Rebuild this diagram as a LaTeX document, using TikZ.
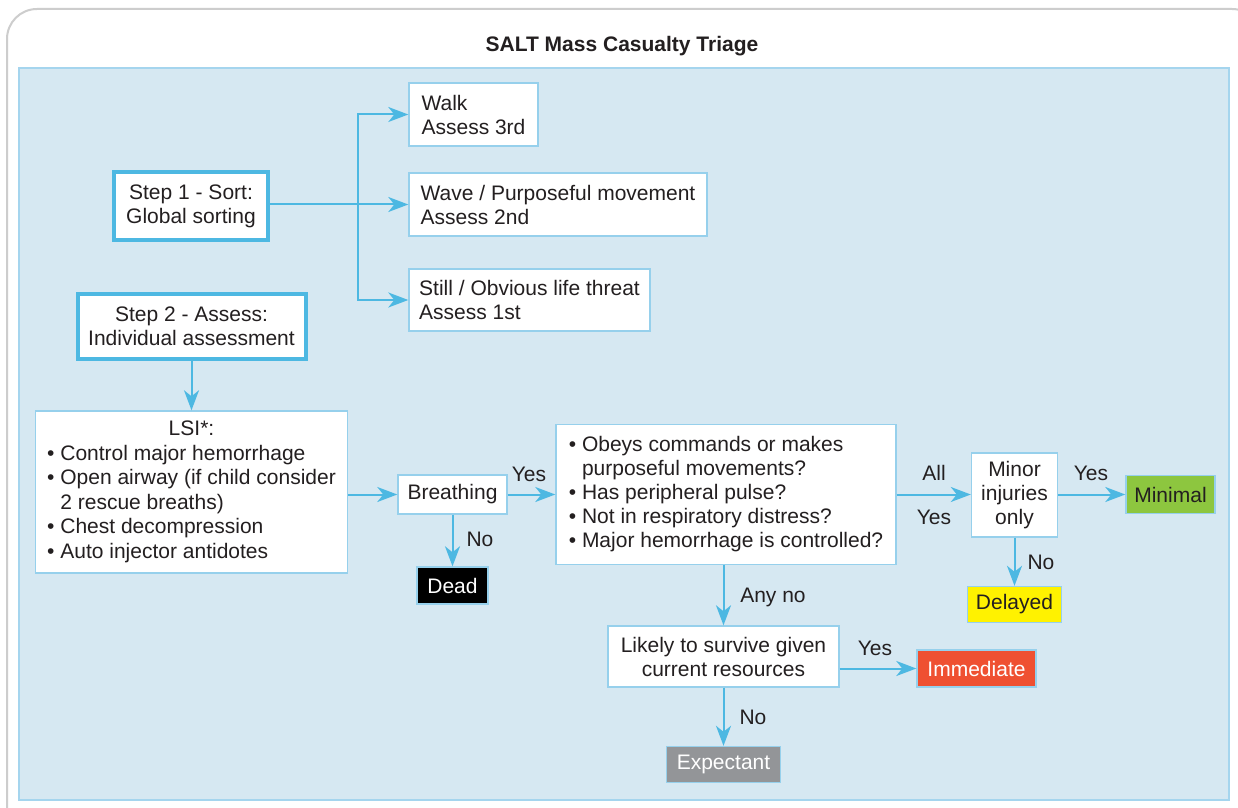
\documentclass[tikz,border=0pt]{standalone}
\usepackage{fontspec}
\setmainfont{Liberation Sans}
\usetikzlibrary{arrows.meta}

\definecolor{flowblue}{RGB}{77,184,226}
\definecolor{panelfill}{RGB}{214,232,242}
\definecolor{panelline}{RGB}{165,213,238}
\definecolor{boxline}{RGB}{150,208,236}
\definecolor{framegray}{RGB}{205,205,205}
\definecolor{ink}{RGB}{35,31,32}
\definecolor{minimalgreen}{RGB}{141,198,63}
\definecolor{delayedyellow}{RGB}{255,242,0}
\definecolor{immediatered}{RGB}{239,80,49}
\definecolor{expectantgray}{RGB}{147,149,152}

\begin{document}
\begin{tikzpicture}[x=0.5pt, y=-0.5pt, font=\fontsize{10.5}{12}\selectfont, text=ink,
  box/.style={draw=boxline, fill=white, line width=0.7pt, inner sep=0pt, align=center},
  stepbox/.style={box, draw=flowblue, line width=2pt},
  tagbox/.style={draw=boxline, line width=0.7pt, inner sep=0pt},
  flow/.style={draw=flowblue, line width=1pt, -{Stealth[length=10pt, width=7.5pt, inset=3pt]}},
  lbl/.style={inner sep=0pt}]
\useasboundingbox (0,0) rectangle (1238,808);
\clip (0,0) rectangle (1238,808);
\fill[white] (0,0) rectangle (1238,808);
\draw[framegray, line width=1pt, rounded corners=15pt] (7,9) rectangle (1262,840);
\draw[panelline, fill=panelfill, line width=1pt] (19,68) rectangle (1229,800);
\node[font=\fontsize{10.5}{12}\selectfont\bfseries] at (622,46) (title) {SALT Mass Casualty Triage};

% sorting
\node[stepbox, minimum width=77pt, minimum height=33.5pt] at (191,206) (step1) {Step 1 - Sort:\\Global sorting};
\node[box, align=left, minimum width=64.5pt, minimum height=31.5pt] at (473.5,114.5) (walk) {Walk\\Assess 3rd};
\node[box, align=left, minimum width=149pt, minimum height=31.5pt] at (558,204.5) (wave) {Wave / Purposeful movement\\Assess 2nd};
\node[box, align=left, minimum width=120.5pt, minimum height=31pt] at (529.5,300) (still) {Still / Obvious life threat\\Assess 1st};
\coordinate (fork) at (358,205);

% assessment
\node[stepbox, minimum width=114pt, minimum height=32.5pt] at (191.5,326.5) (step2) {Step 2 - Assess:\\Individual assessment};
\node[box, minimum width=156pt, minimum height=81pt, font=\fontsize{10.5}{12.3}\selectfont] at (191.5,492) (lsi) {\begin{tabular}{@{}l@{}}
  \multicolumn{1}{@{}c@{}}{LSI*:}\\
  \textbullet\ Control major hemorrhage\\
  \textbullet\ Open airway (if child consider\\
  \phantom{\textbullet\ }2 rescue breaths)\\
  \textbullet\ Chest decompression\\
  \textbullet\ Auto injector antidotes
  \end{tabular}};
\node[box, minimum width=54.5pt, minimum height=19.5pt] at (452.5,494.5) (breathing) {Breathing};
\node[tagbox, fill=black, text=white, minimum width=35.5pt, minimum height=18.5pt] at (452.5,585.5) (dead) {Dead};
\node[box, align=left, minimum width=170pt, minimum height=70pt] at (726,494.5) (checks) {\textbullet\ Obeys commands or makes\\
  \phantom{\textbullet\ }purposeful movements?\\
  \textbullet\ Has peripheral pulse?\\
  \textbullet\ Not in respiratory distress?\\
  \textbullet\ Major hemorrhage is controlled?};
\node[box, minimum width=43pt, minimum height=42pt] at (1014.5,495) (minor) {Minor\\injuries\\only};
\node[tagbox, fill=minimalgreen, minimum width=44.5pt, minimum height=19pt] at (1170.5,494.5) (minimal) {Minimal};
\node[tagbox, fill=delayedyellow, minimum width=47pt, minimum height=18pt] at (1014.5,604.5) (delayed) {Delayed};
\node[box, minimum width=115.5pt, minimum height=30.5pt] at (723.5,656.5) (survive) {Likely to survive given\\current resources};
\node[tagbox, fill=immediatered, text=white, minimum width=59.5pt, minimum height=18.5pt] at (976.5,668.5) (immediate) {Immediate};
\node[tagbox, fill=expectantgray, text=white, minimum width=57pt, minimum height=18pt] at (723.5,764.5) (expectant) {Expectant};

% answers
\node[lbl] at (529,474) (yesbreath) {Yes};
\node[lbl] at (480,539) (nobreath) {No};
\node[lbl] at (934,473) (allchecks) {All};
\node[lbl] at (934,517) (yeschecks) {Yes};
\node[lbl] at (1091,473) (yesminor) {Yes};
\node[lbl] at (1041,562) (nominor) {No};
\node[lbl] at (773,597) (anyno) {Any no};
\node[lbl] at (875,648) (yessurvive) {Yes};
\node[lbl] at (753,717) (nosurvive) {No};

\draw[flow] (step1.east |- wave) -- (wave);
\draw[flow] (fork) |- (walk);
\draw[flow] (fork) |- (still);
\draw[flow] (step2) -- (lsi);
\draw[flow] (lsi.east |- breathing) -- (breathing);
\draw[flow] (breathing) -- (checks);
\draw[flow] (breathing) -- (dead);
\draw[flow] (checks) -- (minor.west |- checks);
\draw[flow] (minor.east |- minimal) -- (minimal);
\draw[flow] (minor) -- (delayed);
\draw[flow] (checks.south -| survive) -- (survive);
\draw[flow] (survive.east |- immediate) -- (immediate);
\draw[flow] (survive) -- (expectant);
\end{tikzpicture}
\end{document}
